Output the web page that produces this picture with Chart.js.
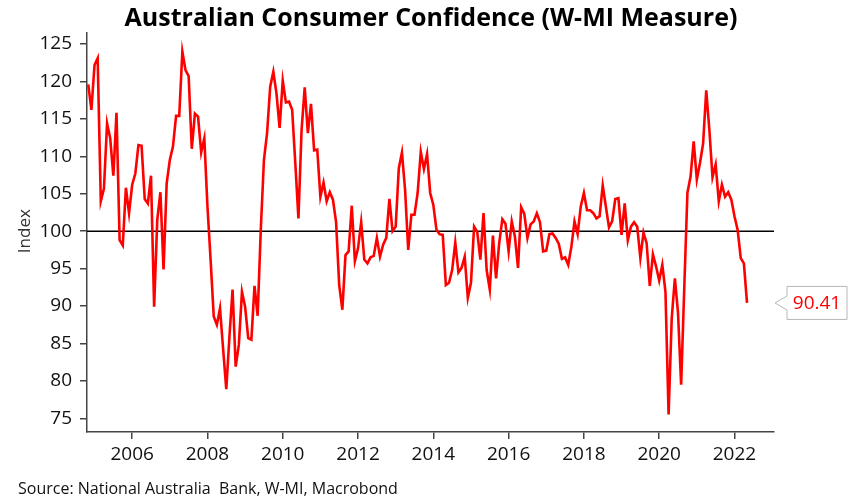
<!DOCTYPE html>
<html><head><meta charset="utf-8">
<script src="https://cdn.jsdelivr.net/npm/chart.js@4.4.1/dist/chart.umd.min.js"></script>
<style>html,body{margin:0;padding:0;background:#fff}#wrap{width:860px;height:500px;position:relative}</style>
</head><body><div id="wrap"><canvas id="c" width="860" height="500"></canvas></div>
<script>
const chartTitle = 'Australian Consumer Confidence (W-MI Measure)';
const sourceText = 'Source: National Australia  Bank, W-MI, Macrobond';
const yAxisTitle = 'Index';
const startYear = 2004, startMonth = 11; // first monthly observation: Nov 2004
const sentiment = [
  119.6, 116.2,
  122.2, 123.1, 104.0, 105.7, 114.4, 112.4, 107.4, 115.8, 98.8, 98.1, 105.8, 102.4,
  106.2, 107.7, 111.5, 111.4, 104.3, 103.7, 107.4, 89.9, 101.5, 105.2, 94.9, 106.4,
  109.5, 111.3, 115.4, 115.4, 124.0, 121.5, 120.7, 111.0, 115.7, 115.3, 110.5, 112.4,
  103.3, 96.2, 88.6, 87.5, 89.7, 84.2, 78.9, 85.9, 92.2, 81.9, 84.8, 91.9,
  89.9, 85.7, 85.5, 92.7, 88.7, 100.2, 109.5, 113.1, 119.3, 121.3, 118.4, 113.8,
  120.1, 117.2, 117.3, 116.2, 109.1, 101.7, 113.5, 119.2, 113.1, 117.0, 110.8, 110.9,
  104.6, 106.5, 104.0, 105.2, 104.2, 101.2, 92.8, 89.5, 96.8, 97.3, 103.4, 96.0,
  97.7, 101.2, 96.2, 95.7, 96.5, 96.7, 99.1, 96.6, 98.2, 99.1, 104.3, 100.0,
  100.6, 108.4, 110.5, 105.5, 97.5, 102.2, 102.2, 105.1, 110.6, 108.3, 110.3, 105.1,
  103.5, 100.2, 99.6, 99.5, 92.8, 93.1, 94.8, 98.5, 94.5, 95.1, 96.6, 91.1,
  93.1, 100.6, 99.9, 96.2, 102.4, 94.8, 92.2, 99.4, 93.7, 98.4, 101.6, 101.0,
  97.3, 101.3, 99.3, 95.1, 103.2, 102.3, 99.1, 100.9, 101.3, 102.4, 101.2, 97.3,
  97.4, 99.6, 99.7, 99.1, 98.3, 96.3, 96.5, 95.5, 97.9, 101.3, 99.6, 103.3,
  105.1, 102.8, 102.8, 102.4, 101.7, 102.0, 106.1, 103.3, 100.5, 101.3, 104.3, 104.4,
  99.5, 103.7, 98.8, 100.6, 101.2, 100.6, 96.4, 99.8, 98.4, 92.7, 96.9, 95.3,
  93.4, 95.5, 91.9, 75.5, 88.4, 93.7, 89.1, 79.5, 92.5, 105.1, 107.3, 112.0,
  106.9, 109.1, 111.7, 118.8, 113.5, 107.2, 108.9, 104.0, 106.2, 104.6, 105.2, 104.2,
  102.0, 100.2, 96.4, 95.7, 90.41
];
const yTickValues = [75, 80, 85, 90, 95, 100, 105, 110, 115, 120, 125];
const xTickYears = [2006, 2008, 2010, 2012, 2014, 2016, 2018, 2020, 2022];
const referenceLevel = 100;
const lastValueLabel = '90.41';

const X_MIN = 2004.8, X_MAX = 2023.05, Y_MIN = 73.17, Y_MAX = 126.47;
const FONT = "'Open Sans', 'DejaVu Sans', sans-serif";

function build() {
  const points = sentiment.map((v, i) => ({ x: startYear + (startMonth - 1 + i) / 12, y: v }));
  const refLine = [{ x: X_MIN, y: referenceLevel }, { x: X_MAX, y: referenceLevel }];

  const decor = {
    id: 'decor',
    afterDraw(chart) {
      const ctx = chart.ctx;
      const area = chart.chartArea;
      const ys = chart.scales.y;
      ctx.save();
      // title
      ctx.fillStyle = '#000';
      ctx.font = `bold 25px ${FONT}`;
      ctx.textAlign = 'center';
      ctx.textBaseline = 'alphabetic';
      ctx.fillText(chartTitle, 431, 26);
      // source
      ctx.font = `16px ${FONT}`;
      ctx.textAlign = 'left';
      ctx.fillStyle = '#111';
      ctx.fillText(sourceText, 18, 494);
      // y-axis title
      ctx.save();
      ctx.translate(25, ys.getPixelForValue(referenceLevel));
      ctx.rotate(-Math.PI / 2);
      ctx.textAlign = 'center';
      ctx.textBaseline = 'middle';
      ctx.font = `17px ${FONT}`;
      ctx.fillStyle = '#333';
      ctx.fillText(yAxisTitle, 0, 0);
      ctx.restore();
      // callout for last value
      const last = sentiment[sentiment.length - 1];
      const py = ys.getPixelForValue(last);
      const tipX = area.right + 1, bx = area.right + 13, bw = 60, bh = 33;
      const by = py - bh / 2;
      ctx.beginPath();
      ctx.moveTo(bx, by);
      ctx.lineTo(bx + bw, by);
      ctx.lineTo(bx + bw, by + bh);
      ctx.lineTo(bx, by + bh);
      ctx.lineTo(bx, py + 7);
      ctx.lineTo(tipX, py);
      ctx.lineTo(bx, py - 7);
      ctx.closePath();
      ctx.fillStyle = '#fff';
      ctx.fill();
      ctx.strokeStyle = '#b8b8b8';
      ctx.lineWidth = 1;
      ctx.stroke();
      ctx.fillStyle = '#ff0000';
      ctx.font = `19px ${FONT}`;
      ctx.textAlign = 'center';
      ctx.textBaseline = 'middle';
      ctx.fillText(lastValueLabel, bx + bw / 2, py + 1);
      ctx.restore();
    }
  };

  new Chart(document.getElementById('c'), {
    type: 'line',
    data: {
      datasets: [
        { data: points, borderColor: '#ff0000', borderWidth: 2.6, pointRadius: 0, tension: 0, order: 1 },
        { data: refLine, borderColor: '#000', borderWidth: 1.5, pointRadius: 0, order: 2 }
      ]
    },
    options: {
      responsive: false,
      animation: false,
      devicePixelRatio: 1,
      layout: { padding: { top: 33, right: 86, left: 0, bottom: 0 } },
      plugins: { legend: { display: false }, tooltip: { enabled: false }, title: { display: false } },
      scales: {
        x: {
          type: 'linear', min: X_MIN, max: X_MAX,
          afterFit(s) { s.height = 68; },
          afterBuildTicks(s) { s.ticks = xTickYears.map(v => ({ value: v })); },
          grid: { drawOnChartArea: false, drawTicks: true, tickLength: 7, color: '#444', lineWidth: 1.5 },
          border: { color: '#444', width: 1.5 },
          ticks: { color: '#111', font: { family: FONT, size: 19 }, padding: 4, maxRotation: 0, autoSkip: false,
                   callback: v => String(v) }
        },
        y: {
          type: 'linear', min: Y_MIN, max: Y_MAX,
          afterFit(s) { s.width = 87; },
          afterBuildTicks(s) { s.ticks = yTickValues.map(v => ({ value: v })); },
          grid: { drawOnChartArea: false, drawTicks: true, tickLength: 7, color: '#444', lineWidth: 1.5 },
          border: { color: '#444', width: 1.5 },
          ticks: { color: '#111', font: { family: FONT, size: 19 }, padding: 8, callback: v => String(v) }
        }
      }
    },
    plugins: [decor]
  });
}

const fontLoads = [`bold 25px 'Open Sans'`, `19px 'Open Sans'`, `16px 'Open Sans'`].map(f => document.fonts.load(f));
Promise.all(fontLoads).then(build, build);
</script>
</body></html>
